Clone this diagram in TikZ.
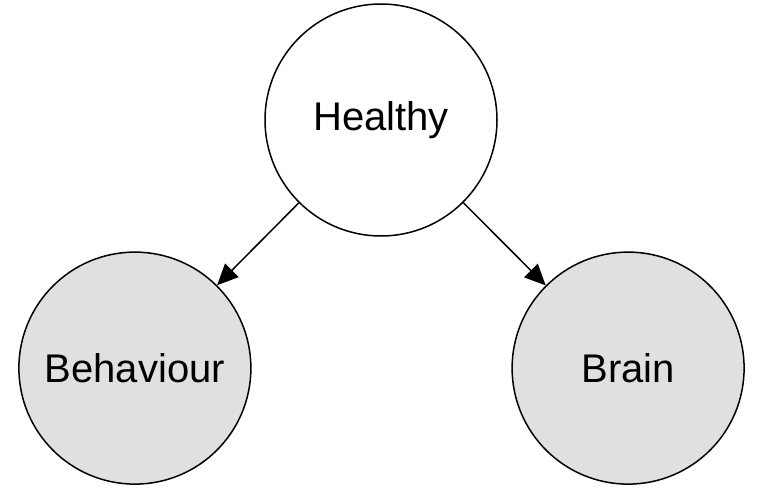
\documentclass[tikz,border=0pt]{standalone}
\usepackage{fontspec}
\setmainfont{Liberation Sans}
\usetikzlibrary{positioning,arrows.meta}
\definecolor{obsgray}{HTML}{E0E0E0}
\tikzset{
  var/.style={circle, draw, line width=1.5pt, minimum size=232pt, inner sep=0pt,
    font=\fontsize{40}{48}\selectfont},
  observed/.style={var, fill=obsgray},
  edge/.style={-{Triangle[length=21pt,width=19pt]}, line width=1.5pt}
}
\begin{document}
\begin{tikzpicture}[x=1pt,y=1pt]
\useasboundingbox (0,0) rectangle (764,491);
\node [var] (healthy) at (381,371) {Healthy};
\node [observed, below left=83pt and 81pt of healthy] (behaviour) {Behaviour};
\node [observed, below right=83pt and 82pt of healthy] (brain) {Brain};

\draw [edge] (healthy) -- (behaviour);
\draw [edge] (healthy) -- (brain);
\end{tikzpicture}
\end{document}
